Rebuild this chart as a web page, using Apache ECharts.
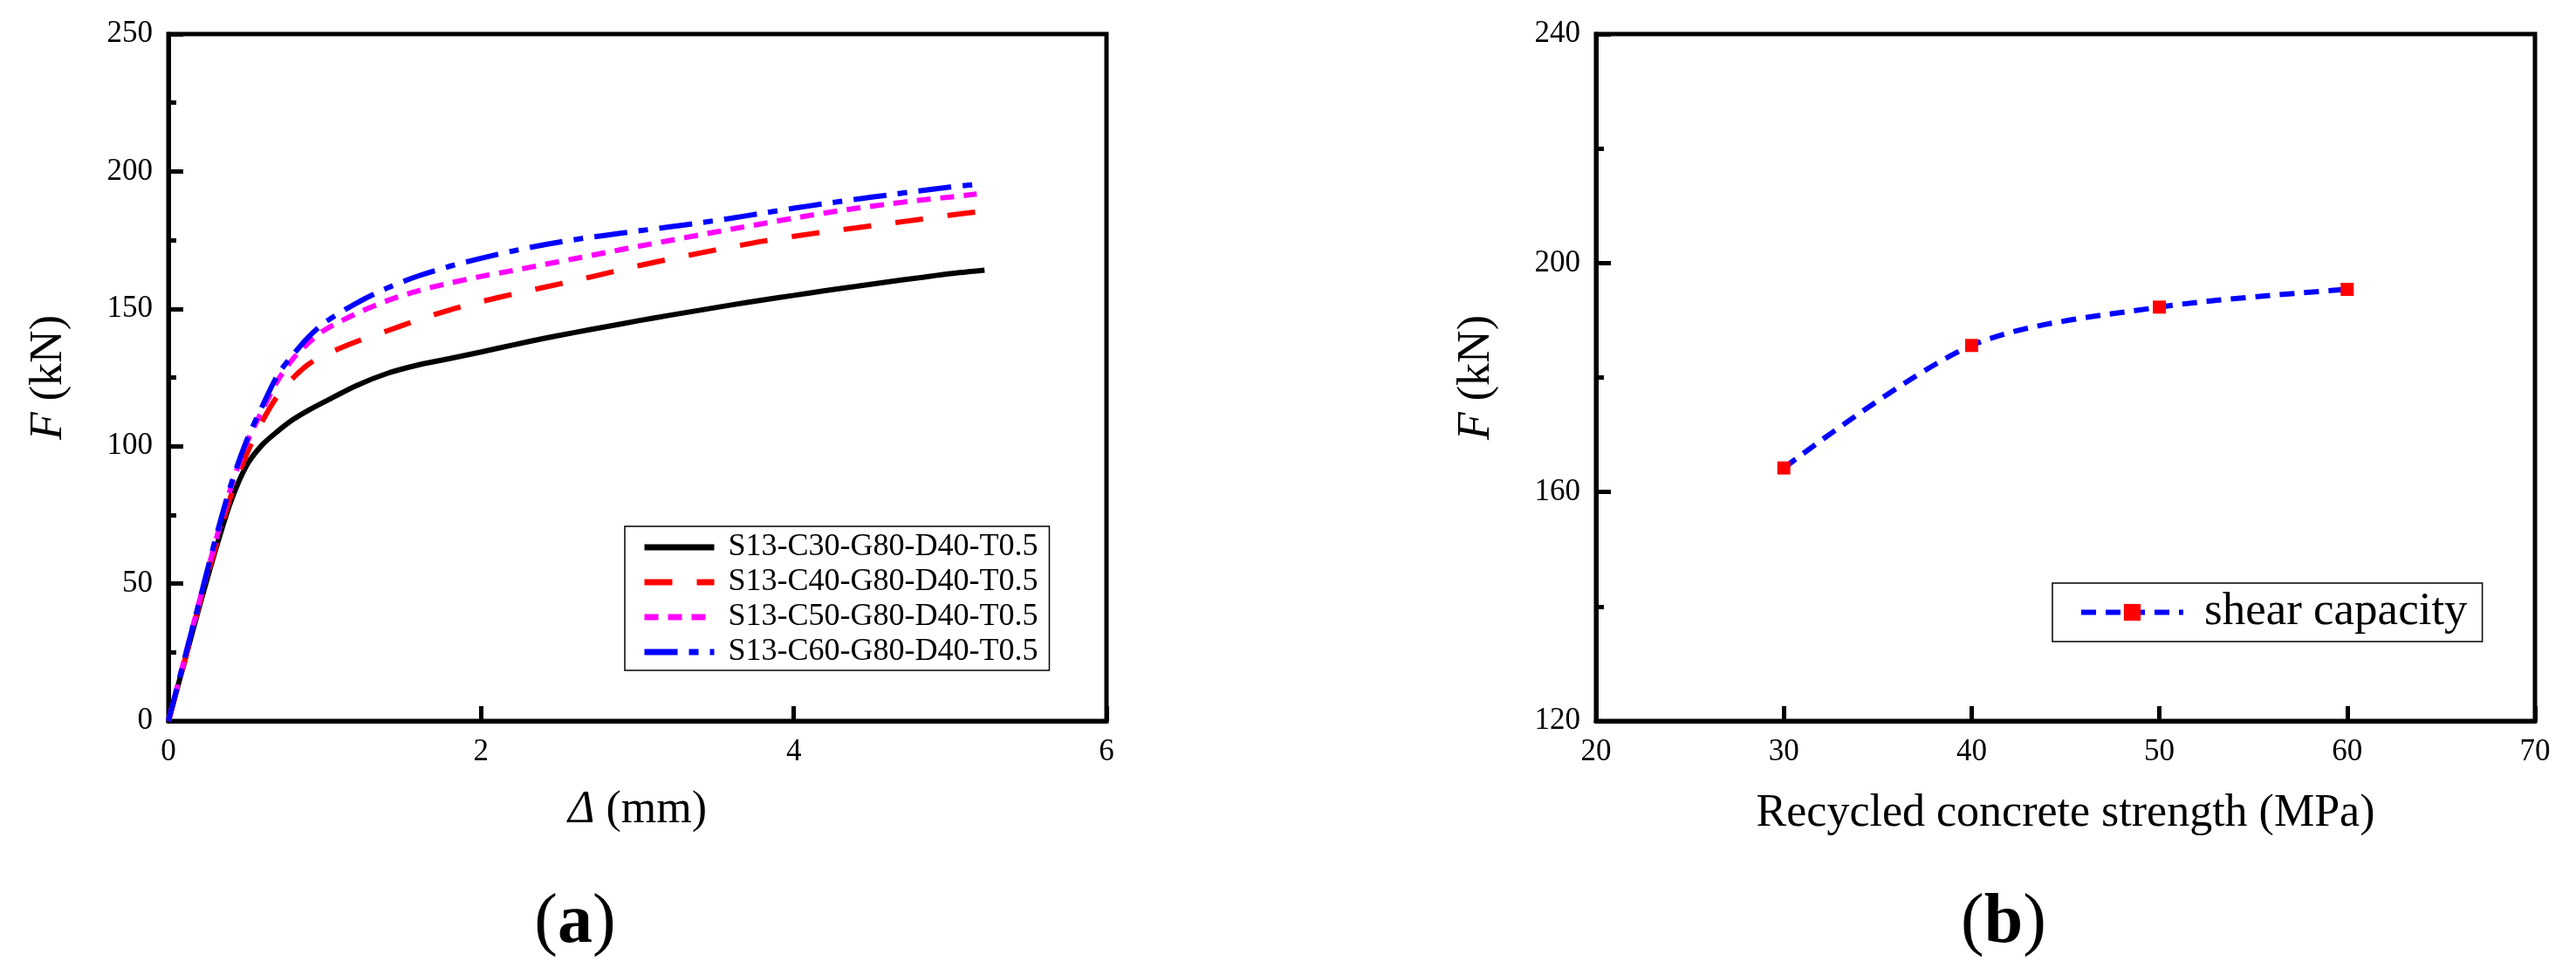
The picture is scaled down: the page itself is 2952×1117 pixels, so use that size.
<!DOCTYPE html>
<html><head><meta charset="utf-8">
<script src="https://cdn.jsdelivr.net/npm/echarts@6/dist/echarts.min.js"></script>
<style>html,body{margin:0;padding:0;background:#fff}#c{width:2952px;height:1117px}</style>
</head><body><div id="c"></div>
<script>
// ---- Panel (a): load–displacement curves ----
const dispC30 = [0,0.1,0.2,0.3,0.4,0.5,0.6,0.7,0.8,0.9,1.0,1.2,1.4,1.6,1.8,2.0,2.2,2.4,2.6,2.8,3.0,3.2,3.4,3.6,3.8,4.0,4.2,4.4,4.6,4.8,5.0,5.22];
const forceC30 = [0,21,42,62,80,93,100.5,105.5,109.8,113.2,116.2,122,126.5,129.6,131.9,134.3,136.8,139.2,141.4,143.5,145.6,147.6,149.5,151.4,153.2,154.9,156.6,158.2,159.8,161.3,162.8,164.1];
const dispC40 = [0,0.1,0.2,0.3,0.4,0.5,0.6,0.7,0.8,0.9,1.0,1.2,1.4,1.6,1.8,2.0,2.2,2.4,2.6,2.8,3.0,3.2,3.4,3.6,3.8,4.0,4.2,4.4,4.6,4.8,5.0,5.2];
const forceC40 = [0,21,43,63,82,97,109,118.5,125,130,133.2,138,142,146,149.6,152.6,155.3,157.8,160.3,162.9,165.6,168,170.3,172.5,174.6,176.4,178,179.5,181,182.5,184.1,185.5];
const dispC50 = [0,0.1,0.2,0.3,0.4,0.5,0.6,0.7,0.8,0.9,1.0,1.2,1.4,1.6,1.8,2.0,2.2,2.4,2.6,2.8,3.0,3.2,3.4,3.6,3.8,4.0,4.2,4.4,4.6,4.8,5.0,5.17];
const forceC50 = [0,22,44,65,85,101,113,124,132,137.8,142.3,148.2,153,156.6,159.4,161.8,163.9,166.1,168.3,170.5,172.7,174.8,176.9,179,181,183,184.9,186.6,188.1,189.5,190.7,191.8];
const dispC60 = [0,0.1,0.2,0.3,0.4,0.5,0.6,0.7,0.8,0.9,1.0,1.2,1.4,1.6,1.8,2.0,2.2,2.4,2.6,2.8,3.0,3.2,3.4,3.6,3.8,4.0,4.2,4.4,4.6,4.8,5.0,5.15];
const forceC60 = [0,22,44,66,86,102,114.5,126,133.5,140,145,152,157.6,162,165.5,168.4,171,173.3,175.2,176.8,178.3,179.8,181.3,183,184.8,186.6,188.3,189.9,191.4,192.9,194.3,195.2];
const seriesNamesA = ['S13-C30-G80-D40-T0.5','S13-C40-G80-D40-T0.5','S13-C50-G80-D40-T0.5','S13-C60-G80-D40-T0.5'];

// ---- Panel (b): shear capacity vs strength ----
const strengthMPa = [30,40,50,60];
const shearCapacity = [164.2,185.6,192.3,195.4];
const seriesNameB = 'shear capacity';

const zip = (xs, ys) => xs.map((x, i) => [x, ys[i]]);
const FONT = "'Liberation Serif','Times New Roman',serif";

const axisCommon = (extra) => Object.assign({
  nameLocation: 'middle',
  axisLine: { show: true, onZero: false, lineStyle: { color: '#000', width: 5 } },
  axisTick: { show: true, inside: true, length: 17, lineStyle: { color: '#000', width: 5 } },
  axisLabel: { color: '#000', fontFamily: FONT, fontSize: 35, margin: 18 },
  splitLine: { show: false },
  nameTextStyle: { color: '#000', fontFamily: FONT, fontSize: 52, rich: { i: { fontStyle: 'italic', fontFamily: FONT, fontSize: 52, color: '#000' } } }
}, extra);

const chart = echarts.init(document.getElementById('c'), null, { renderer: 'canvas' });
chart.setOption({
  backgroundColor: '#fff',
  animation: false,
  grid: [
    { left: 193, top: 39, width: 1075, height: 787, show: true, borderColor: '#000', borderWidth: 5 },
    { left: 1829, top: 39, width: 1076, height: 787, show: true, borderColor: '#000', borderWidth: 5 }
  ],
  xAxis: [
    axisCommon({ gridIndex: 0, type: 'value', min: 0, max: 6, interval: 2, name: '{i|Δ} (mm)', nameGap: 76 }),
    axisCommon({ gridIndex: 1, type: 'value', min: 20, max: 70, interval: 10, name: 'Recycled concrete strength (MPa)', nameGap: 80 })
  ],
  yAxis: [
    axisCommon({ gridIndex: 0, type: 'value', min: 0, max: 250, interval: 50, name: '{i|F} (kN)', nameGap: 111,
      minorTick: { show: true, splitNumber: 2, length: 9, lineStyle: { color: '#000', width: 5 } } }),
    axisCommon({ gridIndex: 1, type: 'value', min: 120, max: 240, interval: 40, name: '{i|F} (kN)', nameGap: 111,
      minorTick: { show: true, splitNumber: 2, length: 9, lineStyle: { color: '#000', width: 5 } } })
  ],
  legend: [
    {
      data: seriesNamesA, orient: 'vertical', left: 716, top: 603,
      padding: [4, 13, 1, 19], itemGap: 0, itemWidth: 80, itemHeight: 14,
      borderColor: '#000', borderWidth: 1.5, backgroundColor: '#fff',
      itemStyle: { opacity: 0 },
      lineStyle: { width: 7 },
      textStyle: { fontFamily: FONT, fontSize: 36, color: '#000', lineHeight: 40, padding: [0, 0, 0, 11] }
    },
    {
      data: [seriesNameB], orient: 'horizontal', left: 2352, top: 668,
      padding: [7, 17, 7, 30], itemWidth: 117, itemHeight: 24,
      borderColor: '#000', borderWidth: 1.5, backgroundColor: '#fff',
      lineStyle: { width: 6 },
      textStyle: { fontFamily: FONT, fontSize: 53, color: '#000', padding: [0, 0, 0, 19] }
    }
  ],
  series: [
    { name: seriesNamesA[0], type: 'line', xAxisIndex: 0, yAxisIndex: 0, data: zip(dispC30, forceC30), smooth: 0.3, symbol: 'none',
      lineStyle: { color: '#000000', width: 6, type: 'solid' }, itemStyle: { color: '#000000' } },
    { name: seriesNamesA[1], type: 'line', xAxisIndex: 0, yAxisIndex: 0, data: zip(dispC40, forceC40), smooth: 0.3, symbol: 'none',
      lineStyle: { color: '#ff0000', width: 6, type: [32, 28] }, itemStyle: { color: '#ff0000' } },
    { name: seriesNamesA[2], type: 'line', xAxisIndex: 0, yAxisIndex: 0, data: zip(dispC50, forceC50), smooth: 0.3, symbol: 'none',
      lineStyle: { color: '#ff00ff', width: 6, type: [16, 11] }, itemStyle: { color: '#ff00ff' } },
    { name: seriesNamesA[3], type: 'line', xAxisIndex: 0, yAxisIndex: 0, data: zip(dispC60, forceC60), smooth: 0.3, symbol: 'none',
      lineStyle: { color: '#0000ff', width: 6, type: [38, 13, 11, 13] }, itemStyle: { color: '#0000ff' } },
    { name: seriesNameB, type: 'line', xAxisIndex: 1, yAxisIndex: 1, data: zip(strengthMPa, shearCapacity), smooth: 0.3,
      symbol: 'rect', symbolSize: 15, showSymbol: true,
      lineStyle: { color: '#0000ff', width: 6, type: [17, 11] }, itemStyle: { color: '#ff0000' } }
  ],
  graphic: [
    { type: 'text', x: 659, y: 1058, style: { text: '({b|a})', fontFamily: FONT, fontSize: 80, fill: '#000', align: 'center', verticalAlign: 'middle',
      rich: { b: { fontFamily: FONT, fontSize: 80, fontWeight: 'bold', fill: '#000' } } } },
    { type: 'text', x: 2296, y: 1058, style: { text: '({b|b})', fontFamily: FONT, fontSize: 80, fill: '#000', align: 'center', verticalAlign: 'middle',
      rich: { b: { fontFamily: FONT, fontSize: 80, fontWeight: 'bold', fill: '#000' } } } }
  ]
});
</script></body></html>
